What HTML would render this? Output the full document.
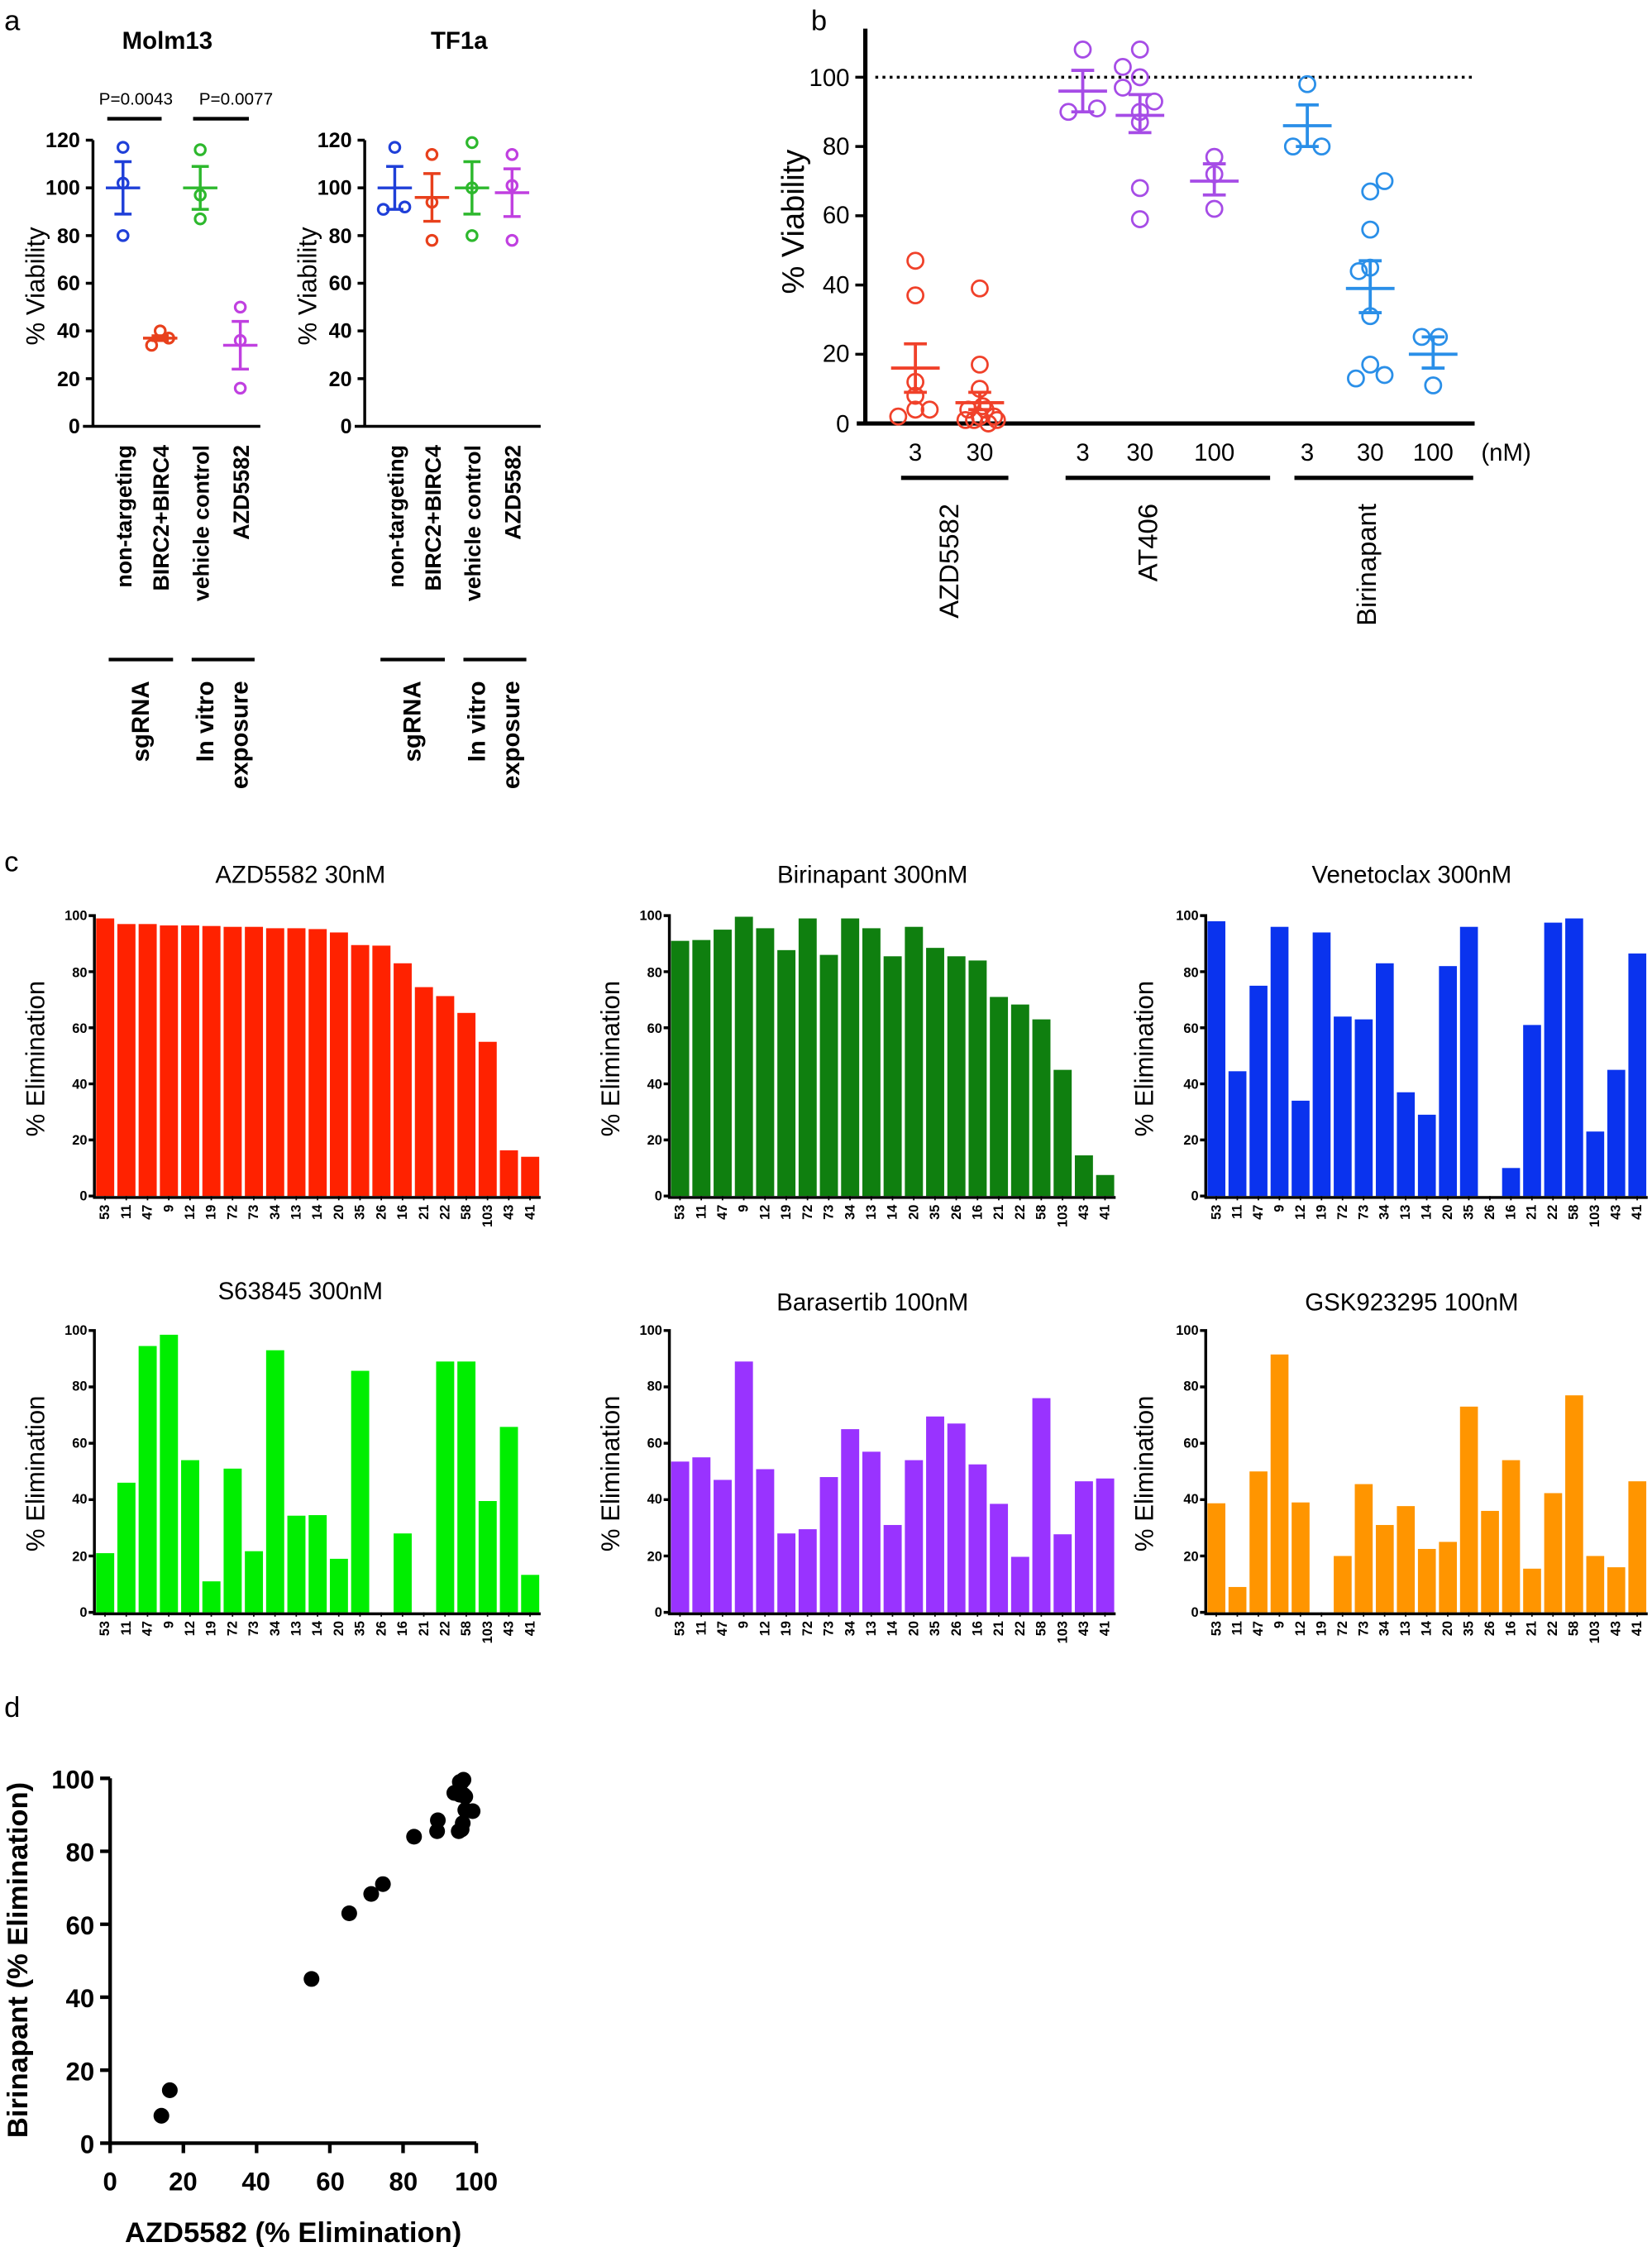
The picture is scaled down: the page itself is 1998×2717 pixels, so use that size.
<!DOCTYPE html>
<html><head><meta charset="utf-8"><style>
html,body{margin:0;padding:0;background:#fff;}
svg{display:block;font-family:"Liberation Sans",Arial,sans-serif;}
</style></head><body>
<svg id="s" width="1998" height="2717" viewBox="0 0 1155 1570.6" preserveAspectRatio="none" xmlns="http://www.w3.org/2000/svg">
<rect width="1155" height="1571" fill="#fff"/>
<text x="3" y="21" font-size="20">a</text>
<text x="567" y="21" font-size="20">b</text>
<text x="3" y="609" font-size="20">c</text>
<text x="3" y="1200" font-size="20">d</text>

<!-- ===== Panel a ===== -->
<text x="117" y="34" text-anchor="middle" font-size="17" font-weight="bold">Molm13</text>
<text x="321" y="34" text-anchor="middle" font-size="17" font-weight="bold">TF1a</text>
<text x="95" y="73" text-anchor="middle" font-size="12">P=0.0043</text>
<text x="165" y="73" text-anchor="middle" font-size="12">P=0.0077</text>
<line x1="75" y1="83" x2="113" y2="83" stroke="#000" stroke-width="2.5"/>
<line x1="135" y1="83" x2="174" y2="83" stroke="#000" stroke-width="2.5"/>

<g stroke="#000" stroke-width="2" fill="none">
<path d="M65,98 V298 M58,298 H182 M60,98 H65 M60,131.3 H65 M60,164.7 H65 M60,198 H65 M60,231.3 H65 M60,264.7 H65"/>
<path d="M255,98 V298 M248,298 H378 M250,98 H255 M250,131.3 H255 M250,164.7 H255 M250,198 H255 M250,231.3 H255 M250,264.7 H255"/>
</g>
<g font-size="14.5" font-weight="bold" text-anchor="end">
<text x="56" y="103">120</text><text x="56" y="136">100</text><text x="56" y="170">80</text><text x="56" y="203">60</text><text x="56" y="236">40</text><text x="56" y="270">20</text><text x="56" y="303">0</text>
<text x="246" y="103">120</text><text x="246" y="136">100</text><text x="246" y="170">80</text><text x="246" y="203">60</text><text x="246" y="236">40</text><text x="246" y="270">20</text><text x="246" y="303">0</text>
</g>
<text transform="translate(31,200) rotate(-90)" text-anchor="middle" font-size="18">% Viability</text>
<text transform="translate(221,200) rotate(-90)" text-anchor="middle" font-size="18">% Viability</text>
<g font-size="15.5" font-weight="bold" text-anchor="end">
<text transform="translate(92,311) rotate(-90)">non-targeting</text>
<text transform="translate(118,311) rotate(-90)">BIRC2+BIRC4</text>
<text transform="translate(146,311) rotate(-90)">vehicle control</text>
<text transform="translate(174,311) rotate(-90)">AZD5582</text>
<text transform="translate(282,311) rotate(-90)">non-targeting</text>
<text transform="translate(308,311) rotate(-90)">BIRC2+BIRC4</text>
<text transform="translate(336,311) rotate(-90)">vehicle control</text>
<text transform="translate(364,311) rotate(-90)">AZD5582</text>
</g>
<g stroke="#000" stroke-width="2.5">
<line x1="76" y1="461" x2="121" y2="461"/><line x1="134" y1="461" x2="178" y2="461"/>
<line x1="266" y1="461" x2="311" y2="461"/><line x1="324" y1="461" x2="368" y2="461"/>
</g>
<g font-size="17" font-weight="bold" text-anchor="end">
<text transform="translate(104,476) rotate(-90)">sgRNA</text>
<text transform="translate(149,476) rotate(-90)">In vitro</text>
<text transform="translate(173,476) rotate(-90)">exposure</text>
<text transform="translate(294,476) rotate(-90)">sgRNA</text>
<text transform="translate(339,476) rotate(-90)">In vitro</text>
<text transform="translate(363,476) rotate(-90)">exposure</text>
</g>

<!-- ===== Panel b ===== -->
<line x1="612" y1="54" x2="1030" y2="54" stroke="#000" stroke-width="2" stroke-dasharray="2,3"/>
<g stroke="#000" stroke-width="3" fill="none">
<path d="M605,20 V297 M599,296 H1031"/>
<path d="M598,54 H605 M598,102.4 H605 M598,150.8 H605 M598,199.2 H605 M598,247.6 H605" stroke-width="2"/>
</g>
<g font-size="17" text-anchor="end">
<text x="594" y="60">100</text><text x="594" y="108">80</text><text x="594" y="156">60</text><text x="594" y="205">40</text><text x="594" y="253">20</text><text x="594" y="302">0</text>
</g>
<text transform="translate(562,155) rotate(-90)" text-anchor="middle" font-size="22">% Viability</text>
<g font-size="17" text-anchor="middle">
<text x="640" y="322">3</text><text x="685" y="322">30</text>
<text x="757" y="322">3</text><text x="797" y="322">30</text><text x="849" y="322">100</text>
<text x="914" y="322">3</text><text x="958" y="322">30</text><text x="1002" y="322">100</text>
<text x="1053" y="322">(nM)</text>
</g>
<g stroke="#000" stroke-width="3">
<line x1="630" y1="334" x2="705" y2="334"/><line x1="745" y1="334" x2="888" y2="334"/><line x1="905" y1="334" x2="1030" y2="334"/>
</g>
<g font-size="19" text-anchor="end">
<text transform="translate(670,352) rotate(-90)">AZD5582</text>
<text transform="translate(809,352) rotate(-90)">AT406</text>
<text transform="translate(962,352) rotate(-90)">Birinapant</text>
</g>

<!-- ===== Panel c ===== -->
<g font-size="17" text-anchor="middle">
<text x="210" y="617">AZD5582 30nM</text>
<text x="610" y="617">Birinapant 300nM</text>
<text x="987" y="617">Venetoclax 300nM</text>
<text x="210" y="908">S63845 300nM</text>
<text x="610" y="916">Barasertib 100nM</text>
<text x="987" y="916">GSK923295 100nM</text>
</g>
<g font-size="18" text-anchor="middle">
<text transform="translate(31,740) rotate(-90)">% Elimination</text>
<text transform="translate(433,740) rotate(-90)">% Elimination</text>
<text transform="translate(806,740) rotate(-90)">% Elimination</text>
<text transform="translate(31,1030) rotate(-90)">% Elimination</text>
<text transform="translate(433,1030) rotate(-90)">% Elimination</text>
<text transform="translate(806,1030) rotate(-90)">% Elimination</text>
</g>
<g id="bars"></g>
<g font-size="9.5" font-weight="bold">
<g transform="translate(66,836)"><g text-anchor="end">
<text x="-5" y="3">0</text><text x="-5" y="-36">20</text><text x="-5" y="-75">40</text><text x="-5" y="-114">60</text><text x="-5" y="-153">80</text><text x="-5" y="-193">100</text></g>
<g text-anchor="end"><text transform="translate(10.4,6) rotate(-90)">53</text><text transform="translate(25.3,6) rotate(-90)">11</text><text transform="translate(40.1,6) rotate(-90)">47</text><text transform="translate(55,6) rotate(-90)">9</text><text transform="translate(69.9,6) rotate(-90)">12</text><text transform="translate(84.7,6) rotate(-90)">19</text><text transform="translate(99.6,6) rotate(-90)">72</text><text transform="translate(114.4,6) rotate(-90)">73</text><text transform="translate(129.3,6) rotate(-90)">34</text><text transform="translate(144.1,6) rotate(-90)">13</text><text transform="translate(159,6) rotate(-90)">14</text><text transform="translate(173.9,6) rotate(-90)">20</text><text transform="translate(188.7,6) rotate(-90)">35</text><text transform="translate(203.6,6) rotate(-90)">26</text><text transform="translate(218.4,6) rotate(-90)">16</text><text transform="translate(233.3,6) rotate(-90)">21</text><text transform="translate(248.1,6) rotate(-90)">22</text><text transform="translate(263,6) rotate(-90)">58</text><text transform="translate(277.9,6) rotate(-90)">103</text><text transform="translate(292.7,6) rotate(-90)">43</text><text transform="translate(307.6,6) rotate(-90)">41</text></g></g>

<g transform="translate(468,836)"><g text-anchor="end">
<text x="-5" y="3">0</text><text x="-5" y="-36">20</text><text x="-5" y="-75">40</text><text x="-5" y="-114">60</text><text x="-5" y="-153">80</text><text x="-5" y="-193">100</text></g>
<g text-anchor="end"><text transform="translate(10.4,6) rotate(-90)">53</text><text transform="translate(25.3,6) rotate(-90)">11</text><text transform="translate(40.1,6) rotate(-90)">47</text><text transform="translate(55,6) rotate(-90)">9</text><text transform="translate(69.9,6) rotate(-90)">12</text><text transform="translate(84.7,6) rotate(-90)">19</text><text transform="translate(99.6,6) rotate(-90)">72</text><text transform="translate(114.4,6) rotate(-90)">73</text><text transform="translate(129.3,6) rotate(-90)">34</text><text transform="translate(144.1,6) rotate(-90)">13</text><text transform="translate(159,6) rotate(-90)">14</text><text transform="translate(173.9,6) rotate(-90)">20</text><text transform="translate(188.7,6) rotate(-90)">35</text><text transform="translate(203.6,6) rotate(-90)">26</text><text transform="translate(218.4,6) rotate(-90)">16</text><text transform="translate(233.3,6) rotate(-90)">21</text><text transform="translate(248.1,6) rotate(-90)">22</text><text transform="translate(263,6) rotate(-90)">58</text><text transform="translate(277.9,6) rotate(-90)">103</text><text transform="translate(292.7,6) rotate(-90)">43</text><text transform="translate(307.6,6) rotate(-90)">41</text></g></g>

<g transform="translate(843,836)"><g text-anchor="end">
<text x="-5" y="3">0</text><text x="-5" y="-36">20</text><text x="-5" y="-75">40</text><text x="-5" y="-114">60</text><text x="-5" y="-153">80</text><text x="-5" y="-193">100</text></g>
<g text-anchor="end"><text transform="translate(10.4,6) rotate(-90)">53</text><text transform="translate(25.1,6) rotate(-90)">11</text><text transform="translate(39.8,6) rotate(-90)">47</text><text transform="translate(54.5,6) rotate(-90)">9</text><text transform="translate(69.2,6) rotate(-90)">12</text><text transform="translate(83.9,6) rotate(-90)">19</text><text transform="translate(98.6,6) rotate(-90)">72</text><text transform="translate(113.3,6) rotate(-90)">73</text><text transform="translate(128,6) rotate(-90)">34</text><text transform="translate(142.7,6) rotate(-90)">13</text><text transform="translate(157.4,6) rotate(-90)">14</text><text transform="translate(172.1,6) rotate(-90)">20</text><text transform="translate(186.8,6) rotate(-90)">35</text><text transform="translate(201.5,6) rotate(-90)">26</text><text transform="translate(216.2,6) rotate(-90)">16</text><text transform="translate(230.9,6) rotate(-90)">21</text><text transform="translate(245.6,6) rotate(-90)">22</text><text transform="translate(260.3,6) rotate(-90)">58</text><text transform="translate(275,6) rotate(-90)">103</text><text transform="translate(289.7,6) rotate(-90)">43</text><text transform="translate(304.4,6) rotate(-90)">41</text></g></g>

<g transform="translate(66,1127)"><g text-anchor="end">
<text x="-5" y="3">0</text><text x="-5" y="-36">20</text><text x="-5" y="-76">40</text><text x="-5" y="-115">60</text><text x="-5" y="-155">80</text><text x="-5" y="-194">100</text></g>
<g text-anchor="end"><text transform="translate(10.4,6) rotate(-90)">53</text><text transform="translate(25.3,6) rotate(-90)">11</text><text transform="translate(40.1,6) rotate(-90)">47</text><text transform="translate(55,6) rotate(-90)">9</text><text transform="translate(69.9,6) rotate(-90)">12</text><text transform="translate(84.7,6) rotate(-90)">19</text><text transform="translate(99.6,6) rotate(-90)">72</text><text transform="translate(114.4,6) rotate(-90)">73</text><text transform="translate(129.3,6) rotate(-90)">34</text><text transform="translate(144.1,6) rotate(-90)">13</text><text transform="translate(159,6) rotate(-90)">14</text><text transform="translate(173.9,6) rotate(-90)">20</text><text transform="translate(188.7,6) rotate(-90)">35</text><text transform="translate(203.6,6) rotate(-90)">26</text><text transform="translate(218.4,6) rotate(-90)">16</text><text transform="translate(233.3,6) rotate(-90)">21</text><text transform="translate(248.1,6) rotate(-90)">22</text><text transform="translate(263,6) rotate(-90)">58</text><text transform="translate(277.9,6) rotate(-90)">103</text><text transform="translate(292.7,6) rotate(-90)">43</text><text transform="translate(307.6,6) rotate(-90)">41</text></g></g>

<g transform="translate(468,1127)"><g text-anchor="end">
<text x="-5" y="3">0</text><text x="-5" y="-36">20</text><text x="-5" y="-76">40</text><text x="-5" y="-115">60</text><text x="-5" y="-155">80</text><text x="-5" y="-194">100</text></g>
<g text-anchor="end"><text transform="translate(10.4,6) rotate(-90)">53</text><text transform="translate(25.3,6) rotate(-90)">11</text><text transform="translate(40.1,6) rotate(-90)">47</text><text transform="translate(55,6) rotate(-90)">9</text><text transform="translate(69.9,6) rotate(-90)">12</text><text transform="translate(84.7,6) rotate(-90)">19</text><text transform="translate(99.6,6) rotate(-90)">72</text><text transform="translate(114.4,6) rotate(-90)">73</text><text transform="translate(129.3,6) rotate(-90)">34</text><text transform="translate(144.1,6) rotate(-90)">13</text><text transform="translate(159,6) rotate(-90)">14</text><text transform="translate(173.9,6) rotate(-90)">20</text><text transform="translate(188.7,6) rotate(-90)">35</text><text transform="translate(203.6,6) rotate(-90)">26</text><text transform="translate(218.4,6) rotate(-90)">16</text><text transform="translate(233.3,6) rotate(-90)">21</text><text transform="translate(248.1,6) rotate(-90)">22</text><text transform="translate(263,6) rotate(-90)">58</text><text transform="translate(277.9,6) rotate(-90)">103</text><text transform="translate(292.7,6) rotate(-90)">43</text><text transform="translate(307.6,6) rotate(-90)">41</text></g></g>

<g transform="translate(843,1127)"><g text-anchor="end">
<text x="-5" y="3">0</text><text x="-5" y="-36">20</text><text x="-5" y="-76">40</text><text x="-5" y="-115">60</text><text x="-5" y="-155">80</text><text x="-5" y="-194">100</text></g>
<g text-anchor="end"><text transform="translate(10.4,6) rotate(-90)">53</text><text transform="translate(25.1,6) rotate(-90)">11</text><text transform="translate(39.8,6) rotate(-90)">47</text><text transform="translate(54.5,6) rotate(-90)">9</text><text transform="translate(69.2,6) rotate(-90)">12</text><text transform="translate(83.9,6) rotate(-90)">19</text><text transform="translate(98.6,6) rotate(-90)">72</text><text transform="translate(113.3,6) rotate(-90)">73</text><text transform="translate(128,6) rotate(-90)">34</text><text transform="translate(142.7,6) rotate(-90)">13</text><text transform="translate(157.4,6) rotate(-90)">14</text><text transform="translate(172.1,6) rotate(-90)">20</text><text transform="translate(186.8,6) rotate(-90)">35</text><text transform="translate(201.5,6) rotate(-90)">26</text><text transform="translate(216.2,6) rotate(-90)">16</text><text transform="translate(230.9,6) rotate(-90)">21</text><text transform="translate(245.6,6) rotate(-90)">22</text><text transform="translate(260.3,6) rotate(-90)">58</text><text transform="translate(275,6) rotate(-90)">103</text><text transform="translate(289.7,6) rotate(-90)">43</text><text transform="translate(304.4,6) rotate(-90)">41</text></g></g>
</g>

<!-- ===== Panel d ===== -->
<g stroke="#000" stroke-width="2.5" fill="none">
<path d="M77,1243 V1499 M76,1498 H333"/>
<path d="M70,1243 H77 M70,1294 H77 M70,1345 H77 M70,1396 H77 M70,1447 H77 M70,1498 H77 M77,1498 V1505 M128.2,1498 V1505 M179.4,1498 V1505 M230.6,1498 V1505 M281.8,1498 V1505 M333,1498 V1505"/>
</g>
<g font-size="18" font-weight="bold" text-anchor="end">
<text x="66" y="1250">100</text><text x="66" y="1301">80</text><text x="66" y="1352">60</text><text x="66" y="1403">40</text><text x="66" y="1454">20</text><text x="66" y="1505">0</text>
</g>
<g font-size="18" font-weight="bold" text-anchor="middle">
<text x="77" y="1531">0</text><text x="128" y="1531">20</text><text x="179" y="1531">40</text><text x="231" y="1531">60</text><text x="282" y="1531">80</text><text x="333" y="1531">100</text>
</g>
<text x="205" y="1567" text-anchor="middle" font-size="20" font-weight="bold">AZD5582 (% Elimination)</text>
<text transform="translate(19,1370) rotate(-90)" text-anchor="middle" font-size="20" font-weight="bold">Birinapant  (% Elimination)</text>

<g id="dyn"></g>
</svg>
<script>
(function(){
var NS="http://www.w3.org/2000/svg";
function el(p,t,a){var e=document.createElementNS(NS,t);for(var k in a)e.setAttribute(k,a[k]);p.appendChild(e);return e;}
var bars=document.getElementById('bars'), dyn=document.getElementById('dyn');
var D={
azd:[99,97,97,96.5,96.5,96.3,96,96,95.5,95.5,95.2,94,89.5,89.3,83,74.5,71.3,65.3,55,16.3,14],
bir:[91,91.3,95,99.6,95.5,87.7,99,86,99,95.5,85.5,96,88.5,85.5,84,71,68.3,63,45,14.5,7.5],
ven:[98,44.5,75,96,34,94,64,63,83,37,29,82,96,0,10,61,97.5,99,23,45,86.5],
s63:[21,46,94.5,98.5,54,11,51,21.7,93,34.3,34.5,19,85.7,0,28,0,89,89,39.5,65.8,13.3],
bar:[53.5,55,47,89,50.8,28,29.5,48,65,57,31,54,69.5,67,52.5,38.5,19.7,76,27.7,46.5,47.5],
gsk:[38.7,9,50,91.5,39,0,20,45.5,31,37.7,22.5,25,73,36,54,15.5,42.3,77,20,16,46.5]};
var C=[[66,836,312,196,'#ff2200',D.azd],[468,836,312,196,'#0f7f0f',D.bir],[843,836,309,196,'#0a33ee',D.ven],
[66,1127,312,197,'#00ee00',D.s63],[468,1127,312,197,'#9933ff',D.bar],[843,1127,309,197,'#ff9500',D.gsk]];
C.forEach(function(c){
 var x0=c[0],y0=c[1],W=c[2],H=c[3],w=W/21;
 c[5].forEach(function(v,i){var h=v*H/100;
  el(bars,'rect',{x:x0+i*w+1.2,y:y0-h,width:w-2.2,height:h,fill:c[4]});
  el(bars,'line',{x1:x0+i*w+w/2,y1:y0,x2:x0+i*w+w/2,y2:y0+3,stroke:'#000','stroke-width':1});
 });
 var p='M'+x0+','+(y0-H-1)+' V'+(y0+1)+' H'+(x0+W);
 for(var k=0;k<=5;k++){var yy=y0-k*H/5;p+=' M'+(x0-4)+','+yy+' H'+x0;}
 el(bars,'path',{d:p,stroke:'#000','stroke-width':2,fill:'none'});
});
function grp(cx,fy,pts,mean,lo,hi,col,r,sw,hw,cw,mw){
 pts.forEach(function(p){el(dyn,'circle',{cx:cx+p[0],cy:fy(p[1]),r:r,fill:'none',stroke:col,'stroke-width':sw});});
 el(dyn,'path',{d:'M'+(cx-hw)+','+fy(mean)+' H'+(cx+hw)+' M'+cx+','+fy(lo)+' V'+fy(hi)+' M'+(cx-cw)+','+fy(lo)+' H'+(cx+cw)+' M'+(cx-cw)+','+fy(hi)+' H'+(cx+cw),stroke:col,'stroke-width':mw,fill:'none'});
}
var fa=function(v){return 298-v*200/120;};
var B='#1f3fd8',R='#e8401c',G='#2db82d',P='#c040e0';
function A(cx,pts,m,lo,hi,col){grp(cx,fa,pts,m,lo,hi,col,3.6,1.8,12,6,2);}
A(86,[[0,117],[0,102],[0,80]],100,89,111,B);
A(112,[[0,40],[-6,34],[6,37]],37,36,38,R);
A(140,[[0,116],[0,97],[0,87]],100,91,109,G);
A(168,[[0,50],[0,36],[0,16]],34,24,44,P);
A(276,[[0,117],[-8,91],[7,92]],100,91,109,B);
A(302,[[0,114],[0,94],[0,78]],96,86,106,R);
A(330,[[0,119],[0,100],[0,80]],100,89,111,G);
A(358,[[0,114],[0,101],[0,78]],98,88,108,P);
var fb=function(v){return 296-v*2.42;};
var r2='#f0412a',p2='#a64ce6',b2='#2a8fe8';
function Bp(cx,pts,m,lo,hi,col){grp(cx,fb,pts,m,lo,hi,col,5.5,1.6,17,8,2.2);}
Bp(640,[[0,47],[0,37],[0,12],[0,8],[-12,2],[0,4],[10,4]],16,9,23,r2);
Bp(685,[[0,39],[0,17],[0,10],[-8,4],[4,4],[0,2],[-10,1],[10,2],[-4,1],[6,0],[12,1],[2,5]],6,4,9,r2);
Bp(757,[[0,108],[-10,90],[10,91]],96,90,102,p2);
Bp(797,[[0,108],[-12,103],[0,100],[-12,97],[10,93],[0,90],[0,87],[0,68],[0,59]],89,84,95,p2);
Bp(849,[[0,77],[0,72],[0,62]],70,66,75,p2);
Bp(914,[[0,98],[-10,80],[10,80]],86,80,92,b2);
Bp(958,[[10,70],[0,67],[0,56],[-8,44],[0,45],[0,31],[0,17],[-10,13],[10,14]],39,32,47,b2);
Bp(1002,[[-8,25],[4,25],[0,11]],20,16,25,b2);
D.azd.forEach(function(a,i){el(dyn,'circle',{cx:77+a*2.56,cy:1498-D.bir[i]*2.55,r:5.5,fill:'#000'});});
})();
</script>
</body></html>
